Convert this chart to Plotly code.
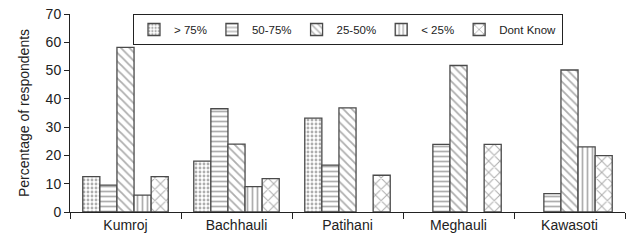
import plotly.graph_objects as go

categories = ["Kumroj", "Bachhauli", "Patihani", "Meghauli", "Kawasoti"]
series_names = ["> 75%", "50-75%", "25-50%", "< 25%", "Dont Know"]
gt75 = [12.5, 18, 33.2, None, None]
p50_75 = [9.5, 36.5, 16.6, 23.9, 6.5]
p25_50 = [58.2, 24, 36.8, 51.8, 50.2]
lt25 = [6, 9, None, None, 23]
dont_know = [12.5, 11.8, 13, 23.9, 19.9]
y_ticks = [0, 10, 20, 30, 40, 50, 60, 70]

series_values = [gt75, p50_75, p25_50, lt25, dont_know]
shapes = [".", "-", "\\", "|", "x"]
sizes = [4, 5, 6, 5, 8]
solid = [0.4, 0.35, 0.3, 0.35, 0.25]

fig = go.Figure()
for name, vals, shp, sz, sd in zip(series_names, series_values, shapes, sizes, solid):
    fig.add_trace(go.Bar(
        x=categories, y=vals, name=name,
        marker=dict(
            color="white",
            line=dict(color="#4a4a4a", width=1.3),
            pattern=dict(shape=shp, fgcolor="#5e5e5e", bgcolor="white",
                         size=sz, solidity=sd, fillmode="overlay"),
        ),
    ))

fig.update_layout(
    width=629, height=245,
    margin=dict(l=70, r=4, t=14, b=33, autoexpand=False),
    barmode="group", bargap=0.23, bargroupgap=0,
    plot_bgcolor="white", paper_bgcolor="white",
    font=dict(family="Liberation Sans, Arial, sans-serif", size=14, color="#222"),
    showlegend=True,
    legend=dict(orientation="h", x=0.1135, y=1.0, xanchor="left", yanchor="top",
                bordercolor="#222", borderwidth=1, bgcolor="white",
                font=dict(size=11.5), itemwidth=30, tracegroupgap=0),
    xaxis=dict(showline=True, linecolor="#222", linewidth=1, ticks="outside",
               tickson="boundaries", ticklen=6, tickcolor="#222",
               showgrid=False, automargin=False),
    yaxis=dict(range=[0, 70], tickvals=y_ticks, showline=True, linecolor="#222",
               linewidth=1, ticks="outside", ticklen=5, tickcolor="#222",
               showgrid=False, zeroline=False, automargin=False,
               ticklabeloverflow="allow",
               title=dict(text="Percentage of respondents", standoff=12,
                          font=dict(size=14))),
)

fig.write_html("out.html", config={"displayModeBar": False},
               post_script="document.body.style.margin='0';")
